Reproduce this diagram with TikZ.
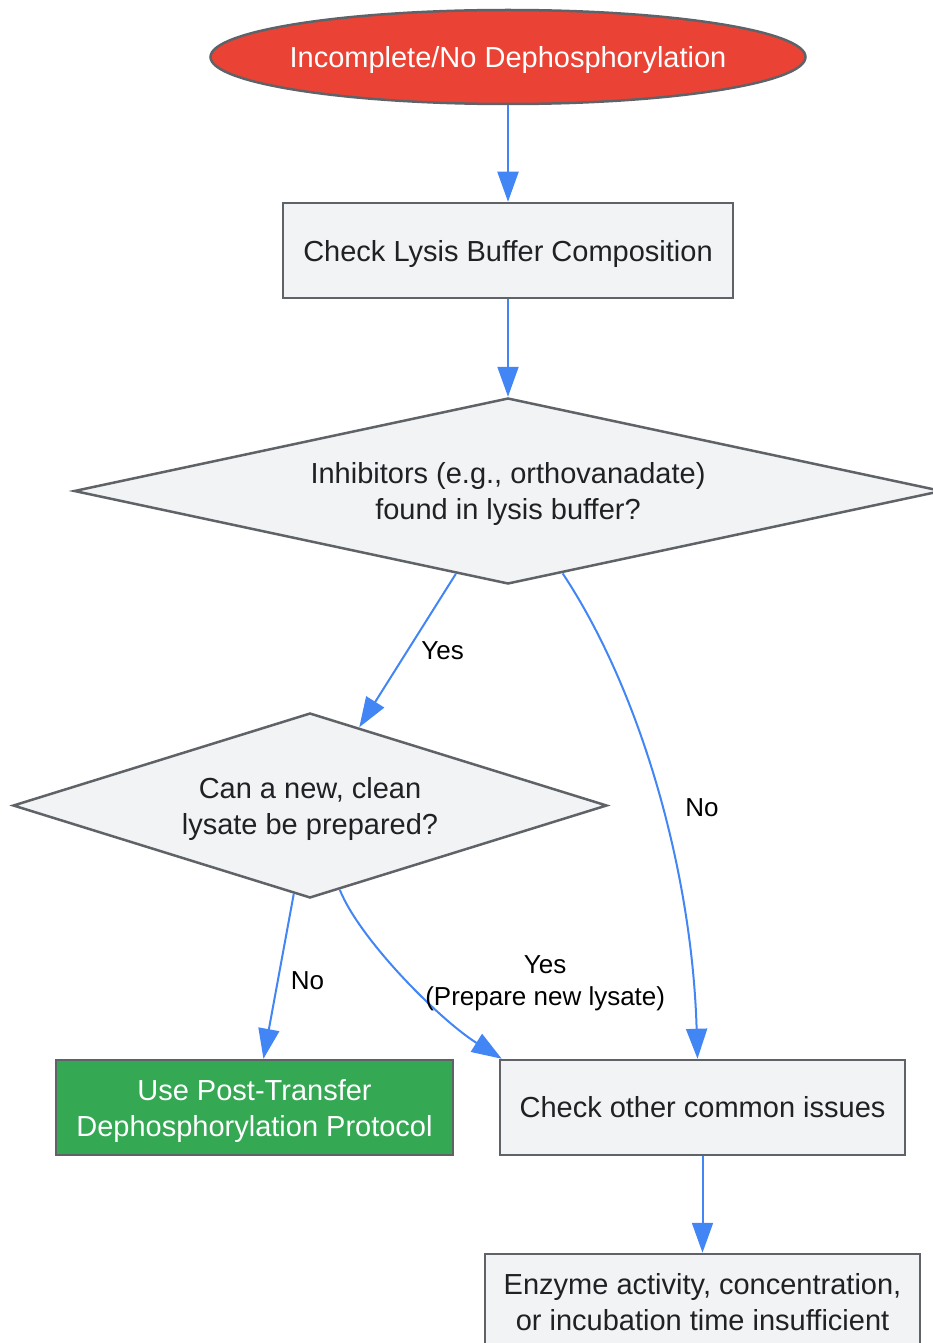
\documentclass[tikz,border=0pt]{standalone}
\usepackage{fontspec}
\setmainfont{Liberation Sans}
\usetikzlibrary{arrows.meta, positioning, shapes.geometric, calc}
\definecolor{flowred}{HTML}{EA4335}
\definecolor{flowgreen}{HTML}{34A853}
\definecolor{flowblue}{HTML}{4285F4}
\definecolor{flowgray}{HTML}{F1F3F4}
\definecolor{flowedge}{HTML}{5F6368}
\definecolor{flowtext}{HTML}{202124}

\begin{document}
\begin{tikzpicture}[x=1pt, y=-1pt,
  nodefont/.style={font=\fontsize{29}{36}\selectfont},
  terminal/.style={ellipse, draw=flowedge, line width=2.5pt, fill=flowred, text=white, inner xsep=-9pt, inner ysep=0pt, nodefont},
  box/.style={rectangle, draw=flowedge, line width=2.5pt, fill=flowgray, text=flowtext, align=center, minimum height=95pt, inner sep=0pt, nodefont},
  decision/.style={diamond, draw=flowedge, line width=2.5pt, fill=flowgray, text=flowtext, align=center, inner sep=0pt, text depth=0pt, nodefont},
  arrow/.style={draw=flowblue, line width=2pt, -{Triangle[length=30pt, width=21pt]}},
  lbl/.style={text=black, align=center, inner sep=0pt, font=\fontsize{26}{32}\selectfont}]

  % Frame of the page
  \path[use as bounding box, clip] (0,0) rectangle (933,1343);

  % Nodes
  \node[terminal, text depth=0pt, minimum width=595pt, minimum height=94pt] (start) at (508,57) {Incomplete/No Dephosphorylation};
  \node[box, text depth=0pt, minimum width=450pt] (buffer) at (508,250.5) {Check Lysis Buffer Composition};
  \node[decision, aspect=4.67, minimum width=868pt, minimum height=186pt] (inhib) at (508,491) {Inhibitors (e.g., orthovanadate)\\found in lysis buffer?};
  \node[decision, aspect=3.21, minimum width=594pt, minimum height=185pt] (newlysate) at (310,805.5) {Can a new, clean\\lysate be prepared?};
  \node[box, text depth=0pt, fill=flowgreen, text=white, minimum width=397pt] (posttransfer) at (254.5,1107.5) {Use Post-Transfer\\Dephosphorylation Protocol};
  \node[box, minimum width=405pt] (other) at (702.5,1107.5) {Check other common issues};
  \node[box, minimum width=435pt, minimum height=96pt] (enzyme) at (702.5,1302) {Enzyme activity, concentration,\\or incubation time insufficient};

  % Connectors
  \draw[arrow] (start) -- (buffer);
  \draw[arrow] (buffer) -- (inhib);
  \draw[arrow] (inhib) -- (newlysate) node[lbl, pos=0.5, xshift=35pt] {Yes};
  \draw[arrow] (inhib) .. controls (640,690) and (692,870) .. ([xshift=-5pt]other.north) node[lbl, pos=0.5, xshift=45pt, yshift=-19pt] {No};
  \draw[arrow] (newlysate) -- (posttransfer) node[lbl, pos=0.5, xshift=29pt, yshift=-4pt] {No};
  \draw[arrow] ($(newlysate.south)!0.1!(newlysate.east)$) .. controls (360,940) and (440,1020) .. ([xshift=3pt]other.north west) node[lbl, pos=0.5, xshift=140pt, yshift=-5pt] {Yes\\(Prepare new lysate)};
  \draw[arrow] (other) -- (enzyme);
\end{tikzpicture}
\end{document}
